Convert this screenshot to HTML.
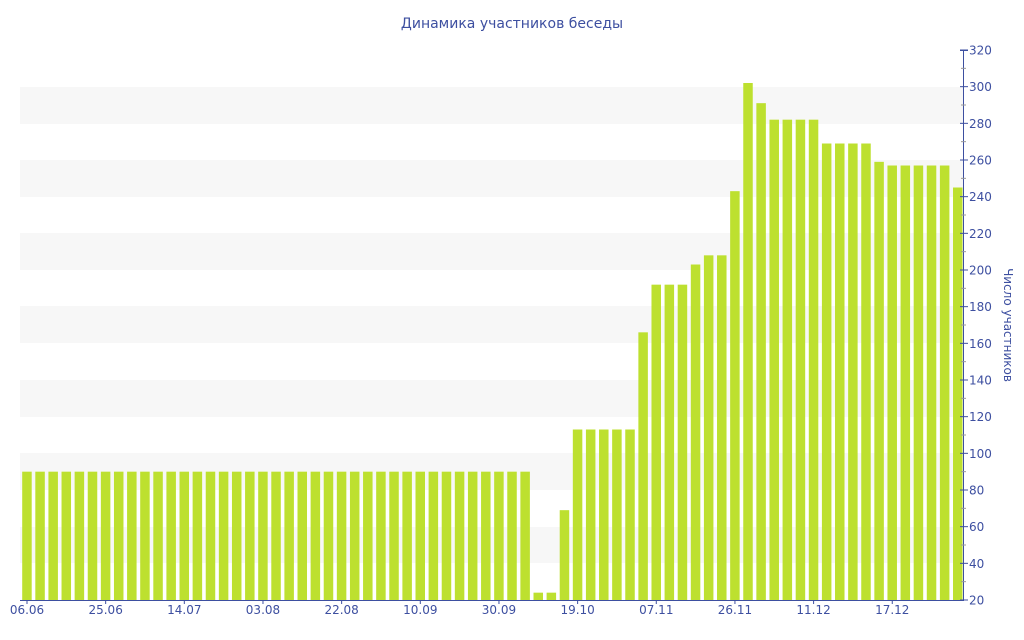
<!DOCTYPE html>
<html><head><meta charset="utf-8"><style>
html,body{margin:0;padding:0;background:#fff;}
svg{display:block;font-family:"DejaVu Sans","Liberation Sans",sans-serif;}
</style></head><body>
<svg width="1024" height="640" viewBox="0 0 1024 640" xmlns="http://www.w3.org/2000/svg">
<text x="512" y="28" text-anchor="middle" font-size="14" fill="#3d4fa0">Динамика участников беседы</text>
<g fill="#f7f7f7">
<rect x="20" y="87" width="943" height="37"/>
<rect x="20" y="160" width="943" height="37"/>
<rect x="20" y="233" width="943" height="37"/>
<rect x="20" y="306" width="943" height="37"/>
<rect x="20" y="380" width="943" height="37"/>
<rect x="20" y="453" width="943" height="37"/>
<rect x="20" y="527" width="943" height="36"/>
</g>
<g id="bars" fill="#bde02f"></g>
<g stroke="#3d4fa0" fill="none">
<line x1="20" y1="600.5" x2="964" y2="600.5"/>
<line x1="963.5" y1="50" x2="963.5" y2="600"/>
<line x1="960" y1="50.5" x2="968" y2="50.5"/>
</g>
<g id="ticks"></g>
<text transform="translate(1004,325) rotate(90)" text-anchor="middle" font-size="12" fill="#3d4fa0">Число участников</text>
<script>
var v=[];for(var i=0;i<39;i++)v.push(90);
v=v.concat([24,24,69,113,113,113,113,113,166,192,192,192,203,208,208,243,302,291,282,282,282,282,269,269,269,269,259,257,257,257,257,257,245]);
var ns="http://www.w3.org/2000/svg",g=document.getElementById("bars"),t=document.getElementById("ticks");
function Y(val){return 600-(val-20)*550/300;}
v.forEach(function(val,i){var r=document.createElementNS(ns,"rect");var x=22.2+i*13.11;r.setAttribute("x",x);r.setAttribute("width",9.5);r.setAttribute("y",Y(val));r.setAttribute("height",600-Y(val));g.appendChild(r);});
function el(n,a,txt){var e=document.createElementNS(ns,n);for(var k in a)e.setAttribute(k,a[k]);if(txt)e.textContent=txt;t.appendChild(e);return e;}
for(var val=20;val<=320;val+=10){var y=Y(val);var major=val%20==0;el("line",{x1:major?960:961,x2:major?968:966,y1:y,y2:y,stroke:major?"#3d4fa0":"#999"});if(major)el("text",{x:969,y:y+4.5,"font-size":12,fill:"#3d4fa0"},""+val);}
var labs=["06.06","25.06","14.07","03.08","22.08","10.09","30.09","19.10","07.11","26.11","11.12","17.12"];
labs.forEach(function(l,j){var x=27+j*6*13.11;el("line",{x1:x,x2:x,y1:600,y2:604,stroke:"#3d4fa0"});el("text",{x:x,y:614,"font-size":12,fill:"#3d4fa0","text-anchor":"middle"},l);});
</script>
</svg>
</body></html>
